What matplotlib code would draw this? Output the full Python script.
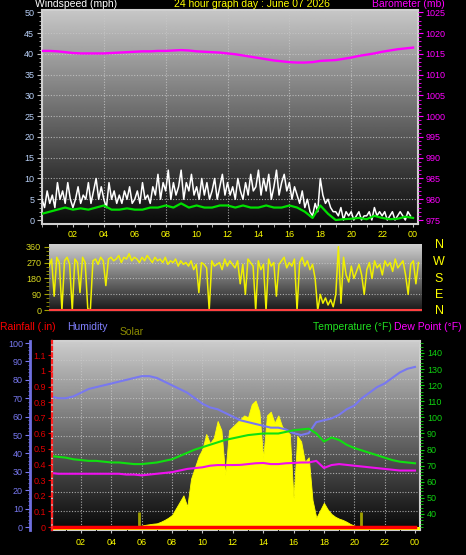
import numpy as np
import matplotlib
matplotlib.use('Agg')
import matplotlib.pyplot as plt
from matplotlib.ticker import MultipleLocator, FuncFormatter

plt.rcParams['font.family'] = ['Liberation Sans', 'DejaVu Sans']

W, H = 466, 555

# ---- data ----
# wind speed (mph), every 10 minutes
wind_speed = [5, 3, 7, 4, 6, 3,   9, 5, 7, 4, 9, 5,   3, 5, 8, 4, 6, 5,
              9, 4, 7, 10, 5, 8,  5, 3, 9, 5, 7, 4,   6, 4, 7, 5, 8, 4,
              5, 7, 4, 9, 5, 6,   4, 8, 6, 11, 5, 9,  7, 12, 5, 9, 6, 8,
              12, 5, 9, 7, 11, 6, 8, 5, 10, 6, 9, 5,  7, 10, 5, 8, 11, 6,
              9, 6, 8, 5, 10, 7,  5, 9, 6, 11, 7, 8,  12, 6, 10, 7, 11, 5,
              8, 12, 6, 9, 11, 7, 9, 5, 8, 6, 4, 7,   3, 5, 2, 1, 4, 2,
              10, 6, 4, 5, 3, 2,  2, 1, 3, 0, 2, 1,   2, 0, 1, 2, 0, 1,
              1, 2, 0, 3, 1, 2,   1, 2, 0, 1, 2, 0,   1, 2, 1, 0, 2, 1]
# average wind speed (mph), every 30 minutes
wind_avg = [1.5, 2.0, 2.5, 3.0, 2.5, 2.8, 2.5, 3.0, 3.5, 2.5, 2.5, 2.8, 2.5,
            2.5, 3.0, 3.0, 3.5, 3.0, 4.0, 3.0, 3.5, 3.0, 3.0, 3.5, 3.5, 3.0,
            3.5, 3.0, 3.0, 3.5, 3.0, 3.0, 3.5, 3.0, 2.0, 0.5, 3.5, 1.5, 0.0,
            0.2, 0.3, 0.5, 0.2, 1.0, 0.5, 0.2, 0.3, 0.8, 0.5]
# barometer (mb), every 30 minutes
barometer = [1015.7, 1015.7, 1015.6, 1015.4, 1015.2, 1015.1, 1015.1, 1015.1,
             1015.1, 1015.2, 1015.3, 1015.4, 1015.5, 1015.6, 1015.6, 1015.7,
             1015.7, 1015.8, 1015.9, 1015.8, 1015.6, 1015.5, 1015.4, 1015.3,
             1015.1, 1014.9, 1014.6, 1014.3, 1014.0, 1013.7, 1013.4, 1013.2,
             1013.0, 1012.9, 1012.9, 1013.0, 1013.3, 1013.4, 1013.5, 1013.8,
             1014.1, 1014.5, 1014.8, 1015.1, 1015.5, 1015.8, 1016.1, 1016.3,
             1016.5]
# wind direction (degrees), every 10 minutes
wind_dir = [250, 290, 80, 300, 270, 0,     280, 300, 260, 0, 290, 270,
            100, 300, 270, 10, 0, 280,     290, 260, 300, 280, 140, 290,
            300, 280, 290, 310, 270, 300,  290, 320, 280, 300, 290, 270,
            300, 280, 310, 290, 270, 300,  280, 290, 270, 300, 260, 280,
            270, 290, 250, 280, 260, 270,  250, 280, 230, 260, 100, 270,
            260, 240, 0, 280, 250, 260,    270, 230, 290, 250, 280, 260,
            240, 280, 150, 260, 90, 290,   270, 250, 0, 280, 230, 260,
            0, 290, 250, 270, 80, 260,     280, 300, 240, 270, 250, 290,
            0, 270, 300, 250, 280, 230,    260, 180, 0, 90, 40, 70,
            30, 60, 20, 90, 360, 40,       300, 200, 160, 250, 180, 220,
            260, 200, 90, 230, 270, 180,   280, 240, 260, 200, 280, 250,
            270, 220, 290, 240, 260, 280,  200, 90, 260, 280, 150, 270]
# humidity (%), temperature and dew point (F), every 30 minutes
humidity = [71, 70, 70, 71, 73, 75, 76, 77, 78, 79, 80, 81, 82, 82, 81, 79,
            77, 75, 73, 70, 67, 65, 64, 62, 60, 58, 57, 56, 55, 54, 54, 53,
            51, 50, 51, 57, 58, 59, 61, 64, 66, 70, 73, 76, 78, 81, 84, 86, 87]
temperature = [76, 75.5, 75, 74, 73.5, 73, 73, 72.5, 72, 72, 71.5, 71, 71,
               71.5, 72, 73, 74, 76, 78, 80, 81.5, 83, 84.5, 86, 87, 88, 89,
               89.5, 90, 90, 90, 91, 92, 92.5, 93, 90, 85, 87.5, 86, 83, 81,
               79.5, 78, 76.5, 75, 73.5, 72.5, 72, 71.5]
dew_point = [65.5, 65, 65, 65, 65, 65, 65, 65, 65, 65, 64.5, 64.5, 64, 64.5,
             65, 65.5, 66, 67, 68, 68.5, 69, 70, 70.4, 70.4, 70.4, 70.5, 71,
             71.5, 71.7, 71, 71, 71.5, 71.7, 72, 72, 73, 68.6, 70.4, 71, 70.5,
             70, 69.5, 69, 68.5, 68, 67.5, 67, 67, 67]
rainfall = [0.0] * 49
# solar radiation, every 15 minutes from 05:45 to 20:30
solar = [0, 8, 12, 15, 18, 20, 28, 38, 50, 65, 100, 135, 170, 110, 260, 320,
         380, 420, 500, 450, 480, 570, 520, 280, 520, 540, 560, 580, 600, 590,
         660, 680, 620, 370, 600, 620, 560, 600, 540, 520, 500, 155, 490, 460,
         350, 375, 145, 50, 90, 130, 95, 70, 55, 45, 38, 28, 16, 8, 0, 0]
sunrise, sunset = 5.82, 20.45
hour_labels = ['02', '04', '06', '08', '10', '12', '14', '16', '18', '20', '22', '00']
hour_ticks = list(range(2, 25, 2))

t_ws = np.linspace(0, 24, len(wind_speed), endpoint=False)
t_dir = np.linspace(0, 24, len(wind_dir), endpoint=False)
t_half = np.linspace(0, 24, len(barometer))
t_sol = np.linspace(5.75, 20.5, len(solar))


def box(l, t, r, b):
    return [l / W, 1 - b / H, (r - l) / W, (b - t) / H]


def background(ax, top, bottom):
    g = np.linspace(top, bottom, 256).reshape(-1, 1)
    ax.imshow(g, cmap='gray', vmin=0, vmax=1, aspect='auto', extent=(0, 1, 0, 1),
              transform=ax.transAxes, zorder=0, interpolation='bilinear')


def clear(ax):
    ax.patch.set_visible(False)
    for s in ax.spines.values():
        s.set_visible(False)
    ax.tick_params(axis='x', bottom=False, labelbottom=False)


grid_kw = dict(color='#c8c8c8', lw=0.8, ls=(0, (1, 1.5)), alpha=0.8, zorder=1)
fig = plt.figure(figsize=(W / 100, H / 100), dpi=100, facecolor='black')

# ---- wind speed / barometer ----
ax1 = fig.add_axes(box(42, 10, 418, 224))
background(ax1, 0.78, 0.04)
for y in range(5, 50, 5):
    ax1.axhline(y, **grid_kw)
for x in range(4, 24, 4):
    ax1.axvline(x, **grid_kw)
ax1.plot(t_ws, wind_speed, color='white', lw=1.1, zorder=3)
ax1.plot(t_half, wind_avg, color='#00e000', lw=1.6, zorder=4)
ax1.set_xlim(0, 24.32)
ax1.set_ylim(-0.96, 50.55)
ax1.set_xticks(hour_ticks)
ax1.set_xticklabels(hour_labels)
ax1.xaxis.set_minor_locator(MultipleLocator(1))
ax1.yaxis.set_major_locator(MultipleLocator(5))
ax1.yaxis.set_minor_locator(MultipleLocator(1))
ax1.tick_params(axis='x', which='both', colors='#c0c0c0', labelcolor='#ffff00',
                labelsize=6.5, length=2.5, pad=2)
ax1.tick_params(axis='y', which='major', colors='#c0c0c0', labelcolor='#b8d0f8',
                labelsize=6.5, length=3.6, pad=2)
ax1.tick_params(axis='y', which='minor', colors='#c0c0c0', length=2)
for s in ax1.spines.values():
    s.set_color('#d0d0d0')
    s.set_linewidth(1.5)

ax1b = ax1.twinx()
ax1b.plot(t_half, barometer, color='#ff00ff', lw=1.7, zorder=5)
ax1b.set_ylim(974.04, 1025.55)
ax1b.yaxis.set_major_locator(MultipleLocator(5))
ax1b.yaxis.set_minor_locator(MultipleLocator(1))
ax1b.tick_params(axis='y', which='major', colors='#ff00ff', labelsize=6.5,
                 length=3.6, pad=2)
ax1b.tick_params(axis='y', which='minor', colors='#ff00ff', length=2)
for s in ax1b.spines.values():
    s.set_visible(False)

# ---- wind direction ----
ax2 = fig.add_axes(box(49, 244, 422, 312))
background(ax2, 0.82, 0.08)
for y in (90, 180, 270):
    ax2.axhline(y, **grid_kw)
ax2.plot(t_dir, wind_dir, color='#f0f000', lw=1.1, zorder=3)
ax2.axhline(0, color='#ff4040', lw=1.5, zorder=4)
ax2.set_xlim(0, 24.06)
ax2.set_ylim(-9.6, 375)
ax2.set_yticks([0, 90, 180, 270, 360])
ax2.yaxis.set_minor_locator(MultipleLocator(22.5))
ax2.tick_params(axis='x', bottom=False, labelbottom=False)
ax2.tick_params(axis='y', which='major', colors='#a0a000', labelcolor='#d8d820',
                labelsize=6.5, length=3.6, pad=2)
ax2.tick_params(axis='y', which='minor', colors='#a0a000', length=2)
for s in ax2.spines.values():
    s.set_visible(False)
for letter, y in zip(['N', 'W', 'S', 'E', 'N'], [245, 262, 279, 295, 311]):
    fig.text(439 / W, 1 - y / H, letter, color='#ffff00', fontsize=9,
             ha='center', va='center')

# ---- rain / humidity / solar / temperature ----
pos3 = box(52, 341, 420, 530)
ax3 = fig.add_axes(pos3)
background(ax3, 0.80, 0.03)
ax3.set_ylim(0, 10)
ax3.set_xlim(0.09, 24.33)
for y in range(1, 10):
    ax3.axhline(y, **grid_kw)
for x in range(2, 24, 2):
    ax3.axvline(x, **grid_kw)
ax3.set_xticks(hour_ticks)
ax3.set_xticklabels(hour_labels)
ax3.xaxis.set_minor_locator(MultipleLocator(1))
ax3.tick_params(axis='x', which='both', colors='#c0c0c0', labelcolor='#ffff00',
                labelsize=6.5, length=2.5, pad=3)
ax3.tick_params(axis='y', left=False, labelleft=False)
for s in ax3.spines.values():
    s.set_color('#d0d0d0')
    s.set_linewidth(1.5)

ax_sol = fig.add_axes(pos3, sharex=ax3)
clear(ax_sol)
ax_sol.set_ylim(-16, 1000)
ax_sol.axhspan(-16, 0, color='#ffff00', lw=0)
ax_sol.fill_between(t_sol, 0, solar, color='#ffff00', lw=0.6, edgecolor='#ffff00')
ax_sol.vlines([sunrise, sunset], 0, 80, color='#a0a000', lw=2)
ax_sol.set_yticks([])

ax_hum = fig.add_axes(pos3, sharex=ax3)
clear(ax_hum)
ax_hum.plot(t_half, humidity, color='#7878f0', lw=1.5)
ax_hum.set_ylim(-1.63, 101.1)
ax_hum.spines['left'].set_visible(True)
ax_hum.spines['left'].set_position(('outward', 15.8))
ax_hum.spines['left'].set_color('#7070e0')
ax_hum.spines['left'].set_linewidth(2)
ax_hum.yaxis.set_major_locator(MultipleLocator(10))
ax_hum.yaxis.set_minor_locator(MultipleLocator(2))
ax_hum.tick_params(axis='y', which='major', colors='#7878f0', labelsize=6.5,
                   length=3.6, pad=1.5)
ax_hum.tick_params(axis='y', which='minor', colors='#7878f0', length=1.8)

ax_temp = fig.add_axes(pos3, sharex=ax3)
clear(ax_temp)
ax_temp.plot(t_half, temperature, color='#10e010', lw=1.5)
ax_temp.plot(t_half, dew_point, color='#f010f0', lw=1.5)
ax_temp.set_ylim(30.06, 147.45)
ax_temp.yaxis.tick_right()
ax_temp.set_yticks(range(40, 141, 10))
ax_temp.yaxis.set_minor_locator(MultipleLocator(2))
ax_temp.tick_params(axis='y', which='major', colors='#10d010', labelsize=6.5,
                    length=3, pad=2)
ax_temp.tick_params(axis='y', which='minor', colors='#10d010', length=1.8)

ax_rain = fig.add_axes(pos3, sharex=ax3)
clear(ax_rain)
ax_rain.plot(t_half, rainfall, color='#ff0000', lw=2.5)
ax_rain.set_ylim(-0.0192, 1.192)
ax_rain.spines['left'].set_visible(True)
ax_rain.spines['left'].set_color('#ff2020')
ax_rain.spines['left'].set_linewidth(1.6)
ax_rain.spines['left'].set_linestyle((0, (1.5, 1.5)))
ax_rain.yaxis.set_major_locator(MultipleLocator(0.1))
ax_rain.yaxis.set_major_formatter(FuncFormatter(lambda v, p: '%g' % round(v, 1)))
ax_rain.tick_params(axis='y', which='major', colors='#e00000', labelsize=6.5,
                    length=3, pad=1.5)
ax_rain.set_xlim(0.09, 24.33)

# ---- titles ----
def label(x, y, s, color, ha='left', size=7.5):
    fig.text(x / W, 1 - y / H, s, color=color, fontsize=size, ha=ha, va='center')

label(35, 4, 'Windspeed (mph)', 'white')
label(252, 4, '24 hour graph day : June 07 2026', '#ffff00', ha='center')
label(372, 4, 'Barometer (mb)', '#ff00ff')
label(0, 327, 'Rainfall (.in)', '#ff0000')
label(67, 327, 'Humidity', '#8080ff')
label(120, 332, 'Solar', '#8c8c00')
label(313, 327, 'Temperature (\u00b0F)', '#20e020')
label(394, 327, 'Dew Point (\u00b0F)', '#ff00ff')

fig.savefig('out.png', dpi=100, facecolor='black')
